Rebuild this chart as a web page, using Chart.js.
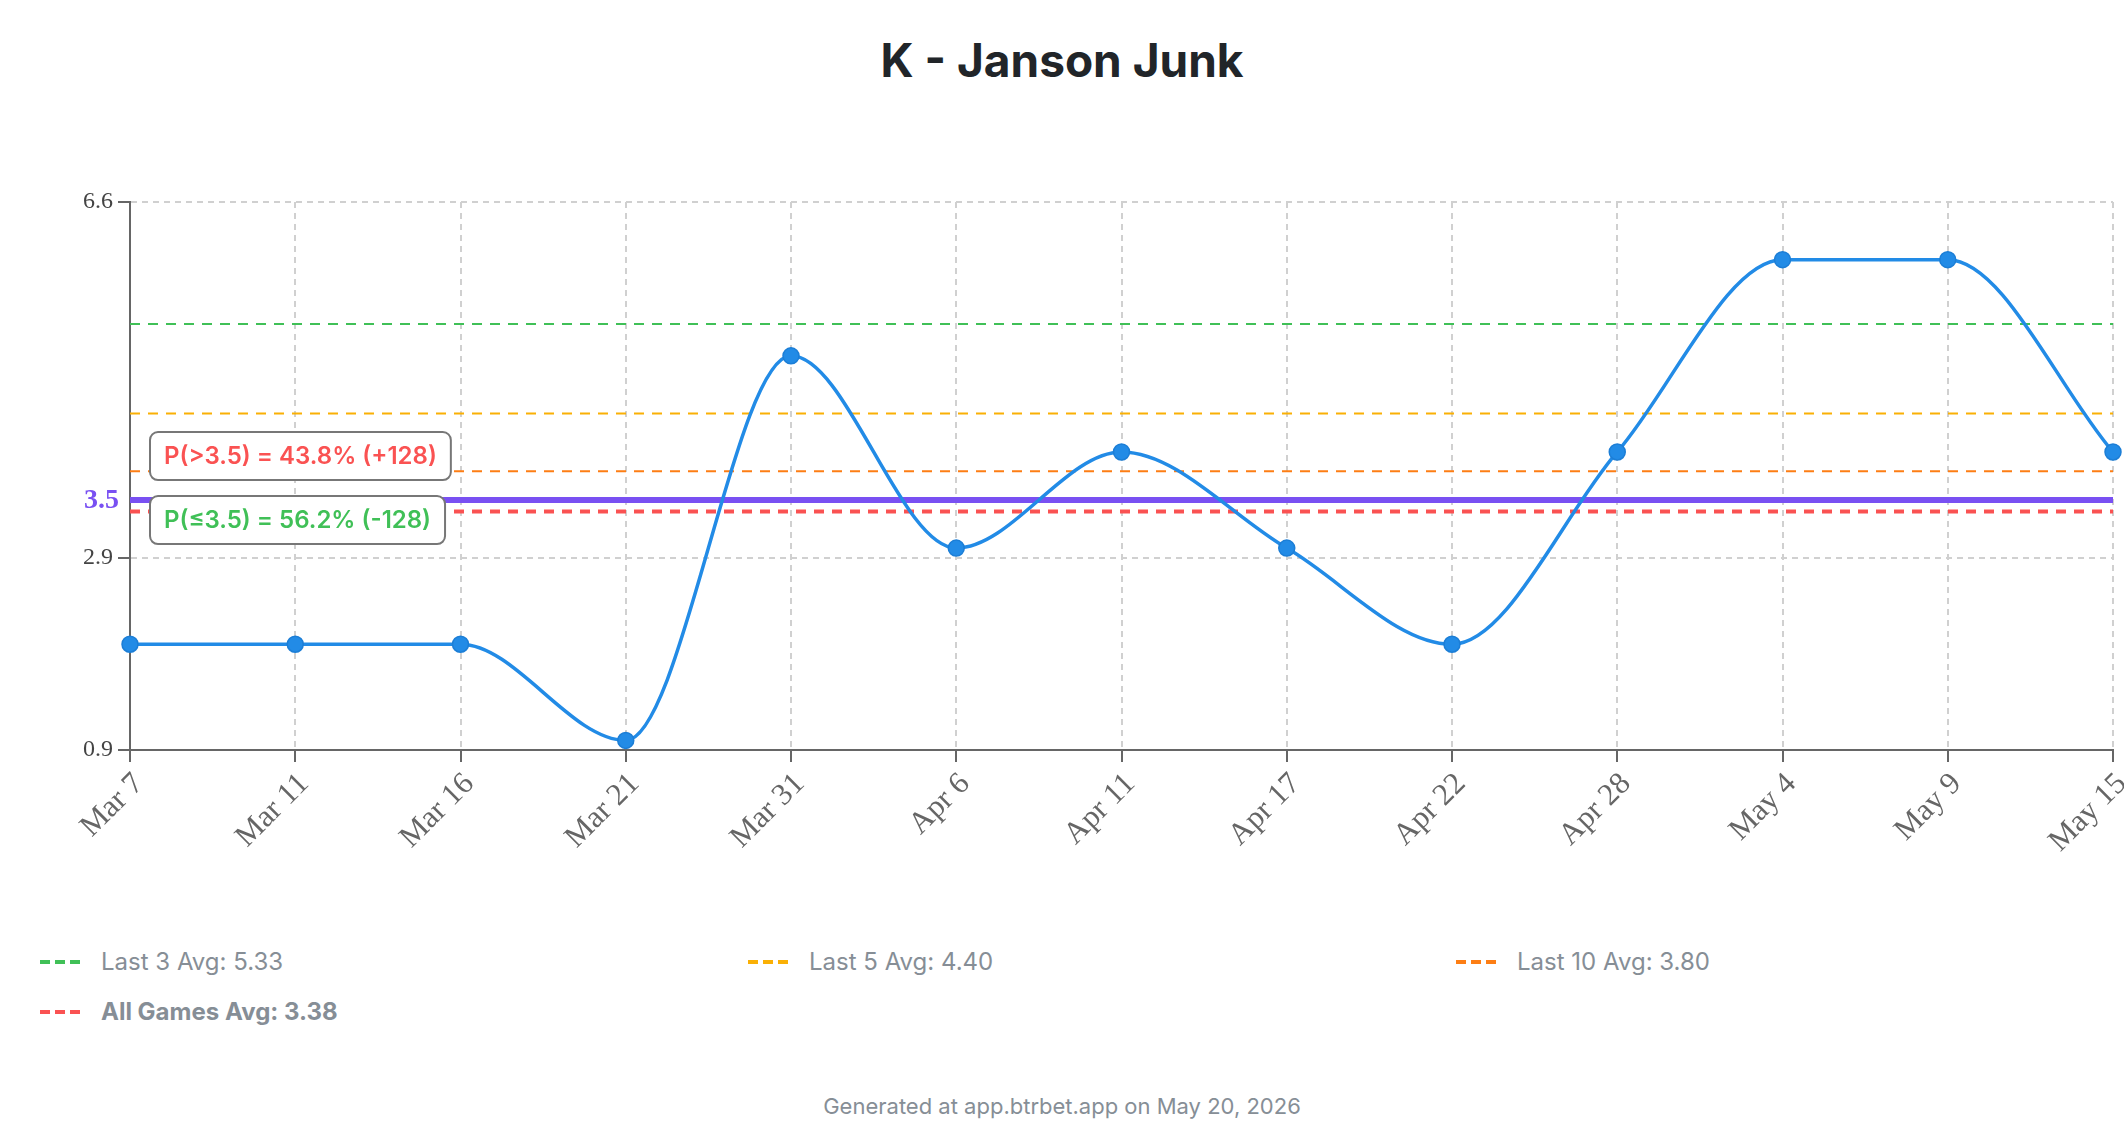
<!DOCTYPE html>
<html>
<head>
<meta charset="utf-8">
<script src="https://cdn.jsdelivr.net/npm/chart.js@4.4.1/dist/chart.umd.min.js"></script>
<style>
  html, body { margin: 0; padding: 0; background: #fff; }
  body { width: 2124px; height: 1140px; position: relative; overflow: hidden; font-family: Inter, "Noto Sans", sans-serif; }
  #title { position: absolute; left: 0; width: 2124px; top: 37px; text-align: center; font: 700 46px/46px Inter, sans-serif; color: #212529; }
  #chart { position: absolute; left: 0; top: 0; }
  .leg { position: absolute; display: flex; align-items: center; font: 400 24px/24px Inter, sans-serif; color: #868e96; white-space: nowrap; }
  .leg .dash { width: 40px; height: 4px; margin-right: 21px; }
  .leg.bold { font-weight: 700; }
  #footer { position: absolute; left: 0; width: 2124px; top: 1095px; text-align: center; font: 400 22px/22px Inter, sans-serif; color: #868e96; }
</style>
</head>
<body>
<div id="title">K - Janson Junk</div>
<canvas id="chart" width="2124" height="900"></canvas>
<div id="legend"></div>
<div id="footer">Generated at app.btrbet.app on May 20, 2026</div>
<script>
// ---- data ----
const labels = ['Mar 7','Mar 11','Mar 16','Mar 21','Mar 31','Apr 6','Apr 11','Apr 17','Apr 22','Apr 28','May 4','May 9','May 15'];
const values = [2, 2, 2, 1, 5, 3, 4, 3, 2, 4, 6, 6, 4];
const yTicks = [0.9, 2.9, 6.6];
const yMin = 0.9;
const yMax = 6.6;
const propLine = 3.5;
const propLabel = '3.5';
const avgNames = ['Last 3 Avg', 'Last 5 Avg', 'Last 10 Avg', 'All Games Avg'];
const avgValues = [5.33, 4.40, 3.80, 3.38];
const avgColors = ['#40c057', '#fab005', '#fd7e14', '#fa5252'];
const probLabels = ['P(>3.5) = 43.8% (+128)', 'P(\u22643.5) = 56.2% (-128)'];
const probColors = ['#fa5252', '#40c057'];

// ---- legend (HTML) ----
const legPos = [[40, 950], [748, 950], [1456, 950], [40, 1000]];
const legend = document.getElementById('legend');
avgNames.forEach((n, i) => {
  const d = document.createElement('div');
  d.className = 'leg' + (i === 3 ? ' bold' : '');
  d.style.left = legPos[i][0] + 'px';
  d.style.top = legPos[i][1] + 'px';
  const dash = document.createElement('span');
  dash.className = 'dash';
  dash.style.background = `repeating-linear-gradient(to right, ${avgColors[i]} 0 10px, transparent 10px 15px)`;
  d.appendChild(dash);
  const t = document.createElement('span');
  t.textContent = n + ': ' + avgValues[i].toFixed(2);
  d.appendChild(t);
  legend.appendChild(d);
});

// ---- plugin for reference lines and probability boxes ----
const refLines = {
  id: 'refLines',
  beforeDatasetsDraw(chart) {
    const {ctx, chartArea: a, scales: {y}} = chart;
    ctx.save();
    avgValues.forEach((v, i) => {
      const py = y.getPixelForValue(v);
      ctx.beginPath();
      ctx.strokeStyle = avgColors[i];
      ctx.lineWidth = i === 3 ? 4 : 2;
      ctx.setLineDash([10, 8]);
      ctx.moveTo(a.left, py);
      ctx.lineTo(a.right, py);
      ctx.stroke();
    });
    const py = y.getPixelForValue(propLine);
    ctx.beginPath();
    ctx.setLineDash([]);
    ctx.strokeStyle = '#7950f2';
    ctx.lineWidth = 6;
    ctx.moveTo(a.left, py);
    ctx.lineTo(a.right, py);
    ctx.stroke();
    // prop line label on the y axis
    ctx.font = 'bold 28px "Liberation Serif", "Times New Roman", serif';
    ctx.fillStyle = '#7950f2';
    ctx.textAlign = 'right';
    ctx.textBaseline = 'middle';
    ctx.fillText(propLabel, a.left - 11, py + 1);
    ctx.restore();
  },
  afterDatasetsDraw(chart) {
    const {ctx, chartArea: a, scales: {y}} = chart;
    const py = y.getPixelForValue(propLine);
    const centers = [py - 44, py + 20];
    ctx.save();
    ctx.font = '600 24px Inter, sans-serif';
    probLabels.forEach((txt, i) => {
      const w = ctx.measureText(txt).width + 28;
      const h = 48;
      const x = a.left + 20;
      const top = centers[i] - h / 2;
      ctx.beginPath();
      ctx.roundRect(x, top, w, h, 8);
      ctx.fillStyle = '#fff';
      ctx.fill();
      ctx.lineWidth = 2;
      ctx.strokeStyle = '#777';
      ctx.stroke();
      ctx.fillStyle = probColors[i];
      ctx.textBaseline = 'middle';
      ctx.textAlign = 'left';
      ctx.fillText(txt, x + 14, centers[i] + 1);
    });
    ctx.restore();
  }
};

new Chart(document.getElementById('chart'), {
  type: 'line',
  data: {
    labels: labels,
    datasets: [{
      data: values,
      borderColor: '#228be6',
      borderWidth: 3.5,
      backgroundColor: '#228be6',
      pointBackgroundColor: '#228be6',
      pointBorderColor: '#1c7ed6',
      pointBorderWidth: 1.5,
      pointRadius: 8,
      tension: 0.4,
      cubicInterpolationMode: 'monotone',
      fill: false,
      clip: false
    }]
  },
  options: {
    responsive: false,
    devicePixelRatio: 1,
    animation: false,
    layout: { padding: { top: 202, right: 11, bottom: 0, left: 0 } },
    plugins: { legend: { display: false }, title: { display: false }, tooltip: { enabled: false } },
    scales: {
      x: {
        offset: false,
        grid: {
          color: '#d0d0d0', lineWidth: 2,
          tickLength: 12, tickColor: '#666', tickWidth: 2, tickBorderDash: []
        },
        border: { color: '#666', width: 2, dash: [6, 5] },
        ticks: {
          minRotation: 45, maxRotation: 45, autoSkip: false,
          color: '#666', padding: 4, labelOffset: 9,
          font: { family: '"Liberation Serif", "Times New Roman", serif', size: 31 }
        },
        afterFit(scale) { scale.height = 150; scale.paddingLeft = 0; scale.paddingRight = 0; }
      },
      y: {
        min: yMin, max: yMax,
        afterBuildTicks(scale) { scale.ticks = yTicks.map(v => ({ value: v })); },
        grid: {
          color: '#d0d0d0',
          lineWidth: 2,
          tickLength: 12, tickWidth: 2, tickBorderDash: [],
          tickColor: '#666'
        },
        border: { color: '#666', width: 2, dash: [6, 5] },
        ticks: {
          padding: 5,
          color: '#444',
          font: { family: '"Liberation Serif", "Times New Roman", serif', size: 24 },
          callback: (v) => String(v)
        },
        afterFit(scale) { scale.width = 130; }
      }
    }
  },
  plugins: [refLines]
});
</script>
</body>
</html>
